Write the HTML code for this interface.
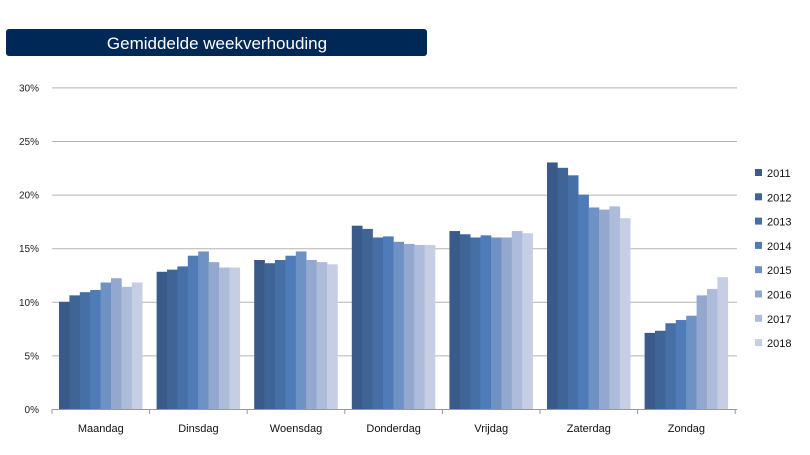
<!DOCTYPE html>
<html><head><meta charset="utf-8"><style>
html,body{margin:0;padding:0;background:#fff;width:810px;height:455px;overflow:hidden}
svg{display:block;font-family:"Liberation Sans",sans-serif}
</style></head><body>
<svg id="c" width="810" height="455" xmlns="http://www.w3.org/2000/svg">
<rect x="6" y="29" width="421" height="27" rx="3" fill="#002856"/>
<text x="217" y="49" font-size="17" fill="#fff" text-anchor="middle">Gemiddelde weekverhouding</text>
</svg>
<script>
const s=document.getElementById('c'),NS='http://www.w3.org/2000/svg';
function el(t,a,txt){const e=document.createElementNS(NS,t);for(const k in a)e.setAttribute(k,a[k]);if(txt)e.textContent=txt;s.appendChild(e);return e;}
const y0=409,py=10.72,x0=52,cw=97.6,bw=10.4;
for(let i=0;i<=6;i++){const y=y0-i*5*py;
 if(i>0)el('line',{x1:x0,x2:737,y1:y+.5,y2:y+.5,stroke:'#b3b3b3','stroke-width':1});
 el('text',{x:39,y:y+4,'font-size':10,fill:'#222','text-anchor':'end'},(i*5)+'%');}
const cols=['#3a5a8a','#3f6496','#466fa6','#4f7cb8','#6f92c4','#94a8cf','#aebcdb','#c5cee3'];
const cats=['Maandag','Dinsdag','Woensdag','Donderdag','Vrijdag','Zaterdag','Zondag'];
const d=[[10.0,10.6,10.9,11.1,11.8,12.2,11.4,11.8],[12.8,13.0,13.3,14.3,14.7,13.7,13.2,13.2],[13.9,13.6,13.9,14.3,14.7,13.9,13.7,13.5],[17.1,16.8,16.0,16.1,15.6,15.4,15.3,15.3],[16.6,16.3,16.0,16.2,16.0,16.0,16.6,16.4],[23.0,22.5,21.8,20.0,18.8,18.6,18.9,17.8],[7.1,7.3,8.0,8.3,8.7,10.6,11.2,12.3]];
d.forEach((r,c)=>{const cx=x0+c*cw;r.forEach((v,j)=>{const h=v*py;el('rect',{x:cx+7+j*bw,y:y0-h,width:bw+.3,height:h,fill:cols[j]});});
 el('text',{x:cx+cw/2,y:432,'font-size':11,fill:'#111','text-anchor':'middle'},cats[c]);});
el('line',{x1:x0,x2:737,y1:y0+.5,y2:y0+.5,stroke:'#999'});
for(let c=0;c<=7;c++){const x=x0+c*cw;el('line',{x1:x,x2:x,y1:y0,y2:y0+5,stroke:'#999'});}
for(let j=0;j<8;j++){const y=173+j*24.3;el('rect',{x:755,y:y-4,width:7,height:7,fill:cols[j]});
 el('text',{x:767,y:y+4,'font-size':11,fill:'#111'},2011+j);}
</script>
</body></html>
